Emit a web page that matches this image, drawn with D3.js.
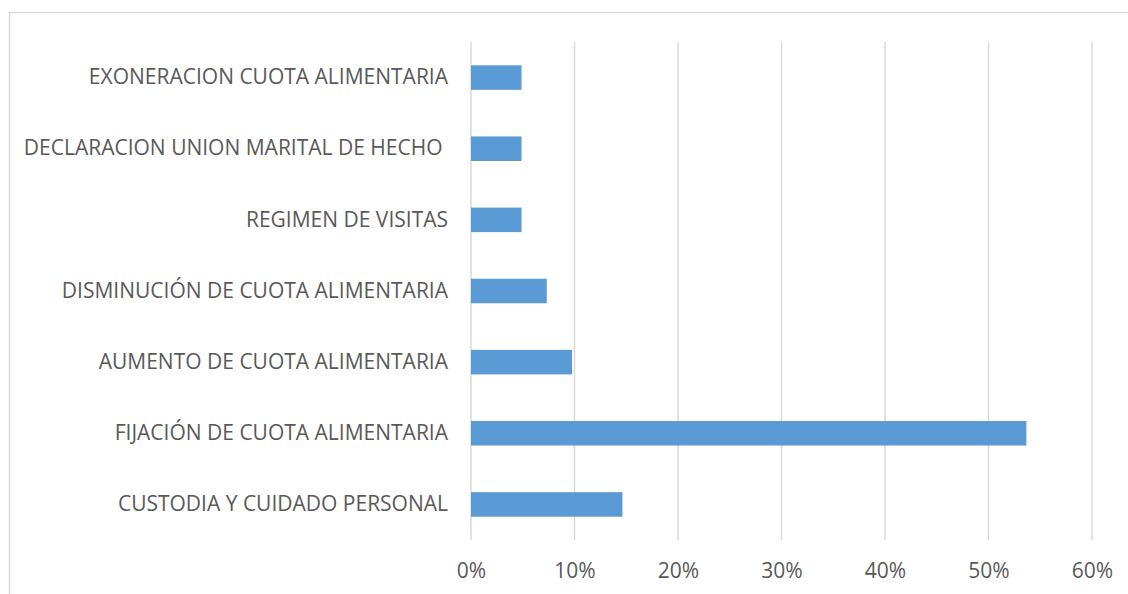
<!DOCTYPE html>
<html>
<head>
<meta charset="utf-8">
<script src="https://cdn.jsdelivr.net/npm/d3@7"></script>
<style>
  html, body { margin: 0; padding: 0; background: #fff; }
  svg { display: block; }
  text { font-family: "Open Sans", "Liberation Sans", sans-serif; fill: #595959; }
</style>
</head>
<body>
<svg id="chart" width="1128" height="594"></svg>
<script>
const categories = [
  "EXONERACION CUOTA ALIMENTARIA",
  "DECLARACION UNION MARITAL DE HECHO ",
  "REGIMEN DE VISITAS",
  "DISMINUCIÓN DE CUOTA ALIMENTARIA",
  "AUMENTO DE CUOTA ALIMENTARIA",
  "FIJACIÓN DE CUOTA ALIMENTARIA",
  "CUSTODIA Y CUIDADO PERSONAL"
];
const values = [0.0488, 0.0488, 0.0488, 0.0732, 0.0976, 0.5366, 0.1463];
const xTicks = [0, 0.1, 0.2, 0.3, 0.4, 0.5, 0.6];

const svg = d3.select("#chart");
const plotLeft = 471, plotRight = 1092, plotTop = 42, plotBottom = 540;
const fontFam = '"Open Sans", "Liberation Sans", sans-serif';

// chart border
svg.append("rect")
  .attr("x", 9.5).attr("y", 12.5)
  .attr("width", 1140).attr("height", 600)
  .attr("fill", "none").attr("stroke", "#d9d9d9").attr("stroke-width", 1.5);

const x = d3.scaleLinear().domain([0, 0.6]).range([plotLeft, plotRight]);
const y = d3.scaleBand().domain(categories).range([plotTop, plotBottom]).paddingInner(0.655).paddingOuter(0.3275);

// gridlines
svg.append("g").selectAll("line").data(xTicks).join("line")
  .attr("x1", d => x(d)).attr("x2", d => x(d))
  .attr("y1", plotTop).attr("y2", plotBottom)
  .attr("stroke", "#d9d9d9").attr("stroke-width", 1.5);

// bars
svg.append("g").selectAll("rect").data(values).join("rect")
  .attr("x", x(0))
  .attr("y", (d, i) => y(categories[i]))
  .attr("width", d => x(d) - x(0))
  .attr("height", y.bandwidth())
  .attr("fill", "#5b9bd5");

// x axis labels
const xAxis = d3.axisBottom(x).tickValues(xTicks).tickFormat(d3.format(".0%")).tickSize(0).tickPadding(0);
const gx = svg.append("g").attr("transform", `translate(0, ${plotBottom + 23})`).call(xAxis);
gx.select(".domain").remove();
gx.selectAll("text").attr("font-size", 21).attr("fill", "#595959")
  .style("font-family", fontFam);

// y axis labels
const yAxis = d3.axisLeft(y).tickSize(0).tickPadding(0);
const gy = svg.append("g").attr("transform", `translate(${plotLeft - 23}, 0)`).call(yAxis);
gy.select(".domain").remove();
gy.selectAll("text").attr("font-size", 21).attr("fill", "#595959")
  .attr("xml:space", "preserve").style("white-space", "pre")
  .style("font-family", fontFam);
</script>
</body>
</html>
